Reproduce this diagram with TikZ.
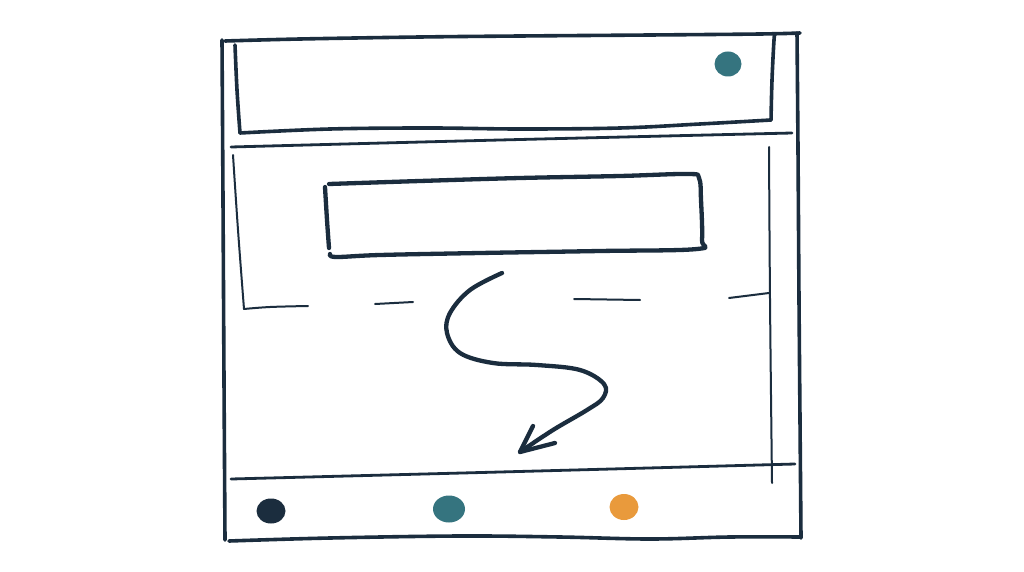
\documentclass[tikz,border=0pt]{standalone}
\usetikzlibrary{calc}
\definecolor{ink}{HTML}{1B2D3E}
\definecolor{tealdot}{HTML}{35747F}
\definecolor{orangedot}{HTML}{E99A3C}
\tikzset{
  pen/.style={draw=ink, line cap=round, line join=round},
  thickpen/.style={pen, line width=3.6pt},
  heavypen/.style={pen, line width=4.3pt},
  midpen/.style={pen, line width=2.8pt},
  thinpen/.style={pen, line width=2.0pt},
  sk/.style={smooth, tension=0.6},
}
\begin{document}
\begin{tikzpicture}[x=1pt,y=-1pt]
\useasboundingbox[fill=white] (0,0) rectangle (1024,572);
% outer frame
\draw[thickpen] plot[sk] coordinates {(225,41) (300,39) (420,37) (520,36) (650,35) (760,34) (800,33)};
\draw[thickpen] plot[sk] coordinates {(222,40) (223,200) (224,380) (225,540)};
\draw[thickpen] plot[sk] coordinates {(797,33) (798,150) (799,300) (800,420) (801,538)};
\draw[thickpen] plot[sk] coordinates {(229,541) (330,538) (460,536) (560,537) (650,539) (730,537) (801,537)};
% header box
\draw[thickpen] plot[sk] coordinates {(235,45) (237,90) (240,133)};
\draw[thickpen] plot[sk] coordinates {(240,133) (330,129) (430,128) (520,129) (620,128) (700,124) (771,120)};
\draw[thickpen] plot[sk] coordinates {(771,120) (772,80) (774,40) (775,34)};
\fill[tealdot] (728,64) ellipse [x radius=13.5, y radius=12.5];
% line below header
\draw[midpen] plot[sk] coordinates {(231,147) (500,140) (792,133)};
% content inner lines
\draw[thinpen] plot[sk] coordinates {(233,155) (238,230) (244,309)};
\draw[thinpen] plot[sk] coordinates {(244,309) (270,307) (308,306)};
\draw[thinpen] (375,304) -- (413,302);
\draw[thinpen] (574,299) -- (640,300);
\draw[thinpen] (729,298) -- (769,293);
\draw[thinpen] plot[sk] coordinates {(769,147) (770,300) (772,483)};
% search box
\draw[heavypen] plot[sk] coordinates {(325,187) (327,220) (329,248)};
\draw[heavypen] plot[sk] coordinates {(329,184) (420,181) (520,178) (620,176) (688,174) (699,178) (701,200) (702,240) (697,249) (600,251) (480,253) (380,255) (336,257) (330,254)};
% squiggle arrow
\coordinate (astart) at (502,273);
\coordinate (atip) at (520,452);
\draw[heavypen] plot[sk] coordinates {(astart) (470,290) (450,313) (447,333) (460,353) (493,363) (537,365) (580,370) (604,384) (603,398) (587,410) (553,430) (atip)};
\draw[heavypen] (533,426) -- (atip) -- (555,443);
% footer line
\draw[midpen] plot[sk] coordinates {(231,479) (500,472) (795,464)};
% footer dots
\fill[ink] (271,511) ellipse [x radius=14.5, y radius=12.5];
\fill[tealdot] (449,509) ellipse [x radius=16, y radius=13.5];
\fill[orangedot] (624,507) ellipse [x radius=14.5, y radius=13];
\end{tikzpicture}
\end{document}
